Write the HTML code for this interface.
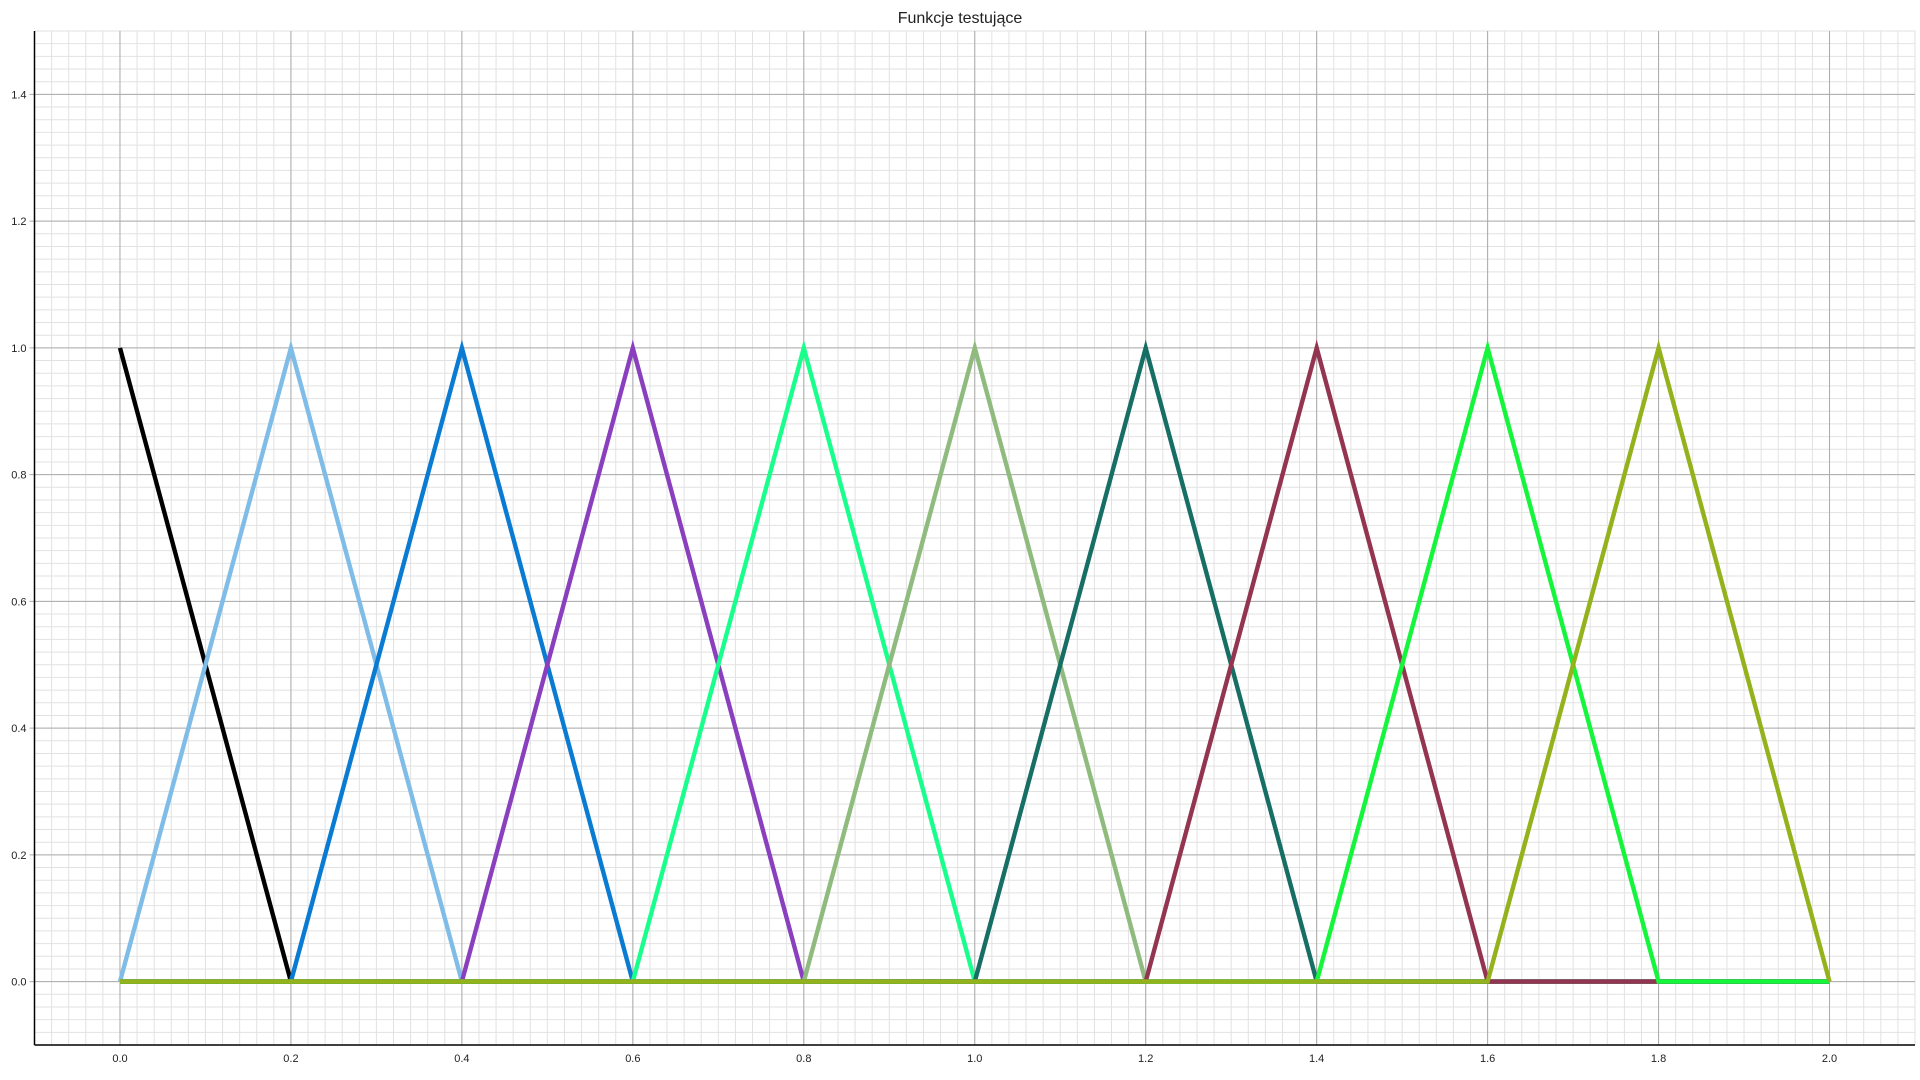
<!DOCTYPE html>
<html><head><meta charset="utf-8">
<style>
html,body{margin:0;padding:0;background:#fff;}
svg{display:block;font-family:"Liberation Sans",Arial,sans-serif;}
</style></head>
<body>
<svg id="chart" width="1920" height="1080" viewBox="0 0 1920 1080" xmlns="http://www.w3.org/2000/svg">
<rect width="1920" height="1080" fill="#fff"/>
<text x="960" y="23" text-anchor="middle" font-size="16" fill="#222">Funkcje testujące</text>
<g id="grid"></g>
<g id="axes"></g>
<g id="series"></g>
</svg>
<script>
const xTicks = [0.0,0.2,0.4,0.6,0.8,1.0,1.2,1.4,1.6,1.8,2.0];
const xTickLabels = ["0.0","0.2","0.4","0.6","0.8","1.0","1.2","1.4","1.6","1.8","2.0"];
const yTicks = [0.0,0.2,0.4,0.6,0.8,1.0,1.2,1.4];
const yTickLabels = ["0.0","0.2","0.4","0.6","0.8","1.0","1.2","1.4"];
const xs = [0.0,0.2,0.4,0.6,0.8,1.0,1.2,1.4,1.6,1.8,2.0];
const s0 = [1,0,0,0,0,0,0,0,0,0,0];
const s1 = [0,1,0,0,0,0,0,0,0,0,0];
const s2 = [0,0,1,0,0,0,0,0,0,0,0];
const s3 = [0,0,0,1,0,0,0,0,0,0,0];
const s4 = [0,0,0,0,1,0,0,0,0,0,0];
const s5 = [0,0,0,0,0,1,0,0,0,0,0];
const s6 = [0,0,0,0,0,0,1,0,0,0,0];
const s7 = [0,0,0,0,0,0,0,1,0,0,0];
const s8 = [0,0,0,0,0,0,0,0,1,0,0];
const s9 = [0,0,0,0,0,0,0,0,0,1,0];
const seriesValues = [s0,s1,s2,s3,s4,s5,s6,s7,s8,s9];
const seriesColors = ["#000000","#7fbde8","#0a7bd2","#8a3fbf","#19ff8c","#8fbb7f","#166e64","#933550","#14f53c","#93b21b"];

const X0=-0.1,X1=2.1,Y0=-0.1,Y1=1.5;
const PL=34.5,PR=1915,PT=31,PB=1045;
const sx=v=>PL+(v-X0)/(X1-X0)*(PR-PL);
const sy=v=>PB-(v-Y0)/(Y1-Y0)*(PB-PT);
const NS="http://www.w3.org/2000/svg";
function mk(tag,attrs,parent){const e=document.createElementNS(NS,tag);for(const k in attrs)e.setAttribute(k,attrs[k]);parent.appendChild(e);return e;}
const grid=document.getElementById('grid'),axes=document.getElementById('axes'),ser=document.getElementById('series');
for(let i=-5;i<=105;i++){const v=i*0.02;const x=sx(v);if(x<=PL+0.5||x>PR)continue;
 const l=mk('line',{x1:x,x2:x,y1:PT,y2:PB,stroke:'#e2e2e2','stroke-width':1},grid);
 
 }
for(let i=-5;i<=75;i++){const v=i*0.02;const y=sy(v);if(y<PT||y>=PB-0.5)continue;
 const l=mk('line',{x1:PL,x2:PR,y1:y,y2:y,stroke:'#e2e2e2','stroke-width':1},grid);
 
 }
xTicks.forEach((v,i)=>{const x=sx(v);
 const l=mk('line',{x1:x,x2:x,y1:PT,y2:PB,stroke:'#aaaaaa','stroke-width':1},grid);
 
 
 const t=mk('text',{x:x,y:PB+17,'text-anchor':'middle','font-size':11,fill:'#222'},axes);t.textContent=xTickLabels[i];
 
 });
yTicks.forEach((v,i)=>{const y=sy(v);
 const l=mk('line',{x1:PL-5,x2:PR,y1:y,y2:y,stroke:'#aaaaaa','stroke-width':1},grid);
 
 
 const t=mk('text',{x:PL-8,y:y+4,'text-anchor':'end','font-size':11,fill:'#222'},axes);t.textContent=yTickLabels[i];
 
 });
const ya=mk('line',{x1:PL,x2:PL,y1:PT,y2:PB,stroke:'#000','stroke-width':1.5},axes);


const xa=mk('line',{x1:PL,x2:PR,y1:PB,y2:PB,stroke:'#000','stroke-width':1.5},axes);


seriesValues.forEach((vals,k)=>{
 const pts=vals.map((v,i)=>sx(xs[i]).toFixed(1)+','+sy(v).toFixed(1)).join(' ');
 const p=mk('polyline',{points:pts,fill:'none',stroke:seriesColors[k],'stroke-width':4.4,'stroke-linejoin':'miter','stroke-miterlimit':10},ser);
 
 
});
</script>
</body></html>
